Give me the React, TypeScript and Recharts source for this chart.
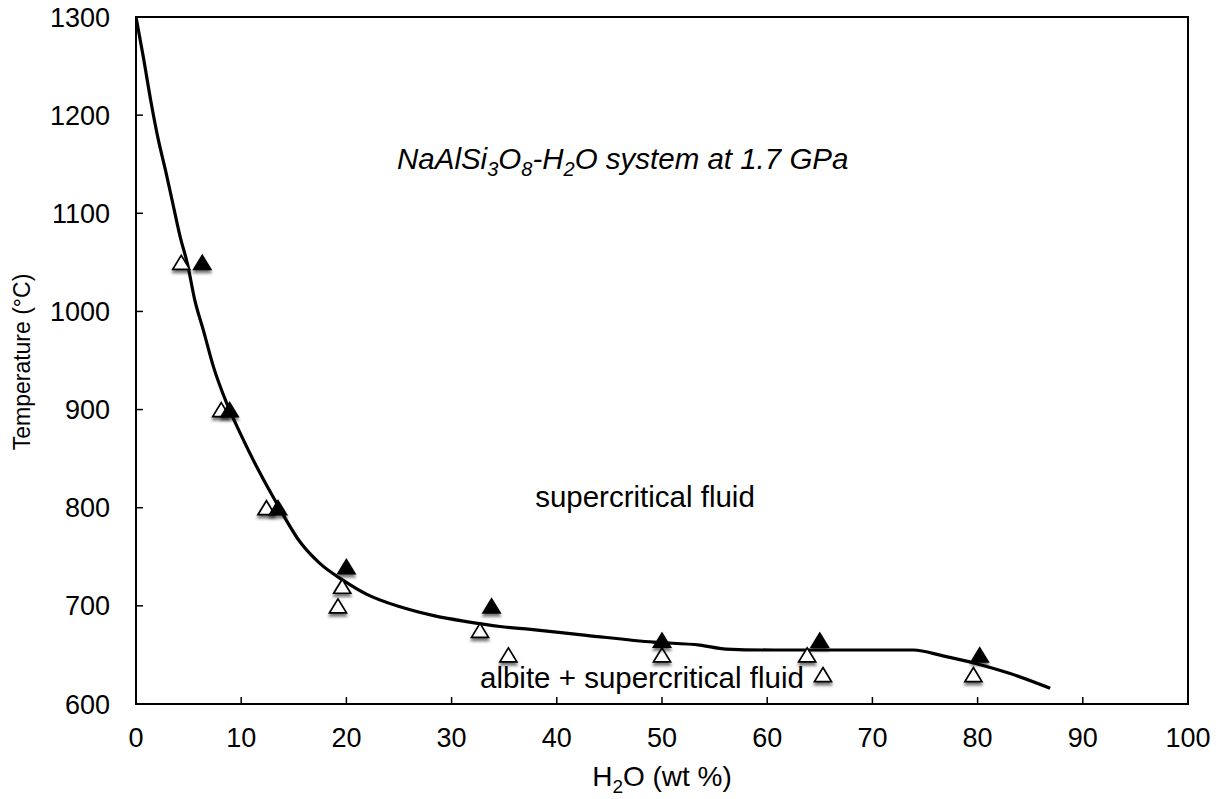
import { ComposedChart, Line, Scatter, XAxis, YAxis, ReferenceArea } from "recharts";

const FONT = "'Liberation Sans', Arial, Helvetica, sans-serif";

// liquidus curve, wt % H2O vs temperature
const curveX = [0, 0.7, 1.4, 2.1, 2.8, 3.5, 4.2, 4.9, 5.6, 6.4, 7.35, 8.6, 9.9, 11.8, 13.4, 15.6, 17.5, 19.7, 21.9, 25.1, 28.3, 31.4, 34.6, 37.5, 42.8, 49.2, 53.6, 56.1, 60.6, 65, 69.8, 73.9, 76.7, 79.9, 83.1, 86.9];
const curveT = [1300, 1259, 1215, 1176, 1144, 1110, 1076, 1048, 1011, 981, 944, 907, 876, 835, 804, 765, 743, 726, 712, 699, 690, 684, 679, 676, 670, 663, 660, 656, 655, 655, 655, 655, 649, 641, 631, 616];

// runs: filled triangles
const filledX = [6.3, 8.9, 13.5, 20, 33.8, 50, 65, 80.2];
const filledT = [1050, 900, 800, 740, 700, 665, 665, 650];

// runs: open triangles
const openX = [4.3, 8.1, 12.4, 19.6, 19.2, 32.7, 35.4, 50, 63.8, 65.3, 79.6];
const openT = [1050, 900, 800, 720, 700, 675, 650, 650, 650, 630, 630];

const xTicks = [0, 10, 20, 30, 40, 50, 60, 70, 80, 90, 100];
const yTicks = [600, 700, 800, 900, 1000, 1100, 1200, 1300];

const curve = curveX.map((x, i) => ({ x, t: curveT[i] }));
const filled = filledX.map((x, i) => ({ x, t: filledT[i] }));
const open = openX.map((x, i) => ({ x, t: openT[i] }));

function Triangle(props: any) {
	const { cx, cy, solid } = props;
	const w = 17;
	const h = 14;
	const pts = `${cx},${cy - h / 2} ${cx + w / 2},${cy + h / 2} ${cx - w / 2},${cy + h / 2}`;
	return (
		<polygon
			points={pts}
			fill={solid ? "#000" : "#fff"}
			stroke="#000"
			strokeWidth={1.7}
			style={{ filter: "drop-shadow(0px 3px 1.5px rgba(0,0,0,0.55))" }}
		/>
	);
}

export default function App() {
	return (
		<div style={{ position: "absolute", left: 0, top: 0, width: 1223, height: 799, background: "#fff" }}>
			<ComposedChart width={1223} height={799} margin={{ top: 17, right: 35, bottom: 35, left: 36 }}>
				<XAxis
					type="number"
					dataKey="x"
					domain={[0, 100]}
					ticks={xTicks}
					height={60}
					axisLine={{ stroke: "#000", strokeWidth: 2 }}
					tickLine={{ stroke: "#000", strokeWidth: 1.5 }}
					tickSize={-7}
					tickMargin={31}
					tick={{ fill: "#000", fontSize: 27, fontFamily: FONT }}
					allowDataOverflow
				/>
				<YAxis
					type="number"
					dataKey="t"
					domain={[600, 1300]}
					ticks={yTicks}
					width={100}
					axisLine={{ stroke: "#000", strokeWidth: 2 }}
					tickLine={{ stroke: "#000", strokeWidth: 1.5 }}
					tickSize={-7}
					tickMargin={33}
					tick={{ fill: "#000", fontSize: 27, fontFamily: FONT }}
					allowDataOverflow
				/>
				<ReferenceArea x1={0} x2={100} y1={600} y2={1300} fill="none" stroke="#000" strokeWidth={2} />
				<Scatter data={open} dataKey="t" isAnimationActive={false} shape={(p: any) => <Triangle {...p} />} />
				<Line data={curve} dataKey="t" type="monotone" stroke="#000" strokeWidth={3.2} dot={false} isAnimationActive={false} />
				<Scatter data={filled} dataKey="t" isAnimationActive={false} shape={(p: any) => <Triangle {...p} solid />} />
			</ComposedChart>
			<svg width={1223} height={799} style={{ position: "absolute", left: 0, top: 0, pointerEvents: "none" }}>
				<g fontFamily={FONT} fill="#000">
					<text x={397} y={169} fontSize={29.5} fontStyle="italic">
						NaAlSi<tspan dy={7} fontSize={20}>3</tspan>
						<tspan dy={-7}>O</tspan>
						<tspan dy={7} fontSize={20}>8</tspan>
						<tspan dy={-7}>-H</tspan>
						<tspan dy={7} fontSize={20}>2</tspan>
						<tspan dy={-7}>O system at 1.7 GPa</tspan>
					</text>
					<text x={645} y={507} fontSize={29.5} textAnchor="middle">supercritical fluid</text>
					<text x={480} y={688} fontSize={29.5}>albite + supercritical fluid</text>
					<text x={662} y={786} fontSize={28} textAnchor="middle">
						H<tspan dy={7} fontSize={19}>2</tspan>
						<tspan dy={-7}>O (wt %)</tspan>
					</text>
					<text x={30} y={362} fontSize={23} textAnchor="middle" transform="rotate(-90 30 362)">Temperature (°C)</text>
				</g>
			</svg>
		</div>
	);
}
